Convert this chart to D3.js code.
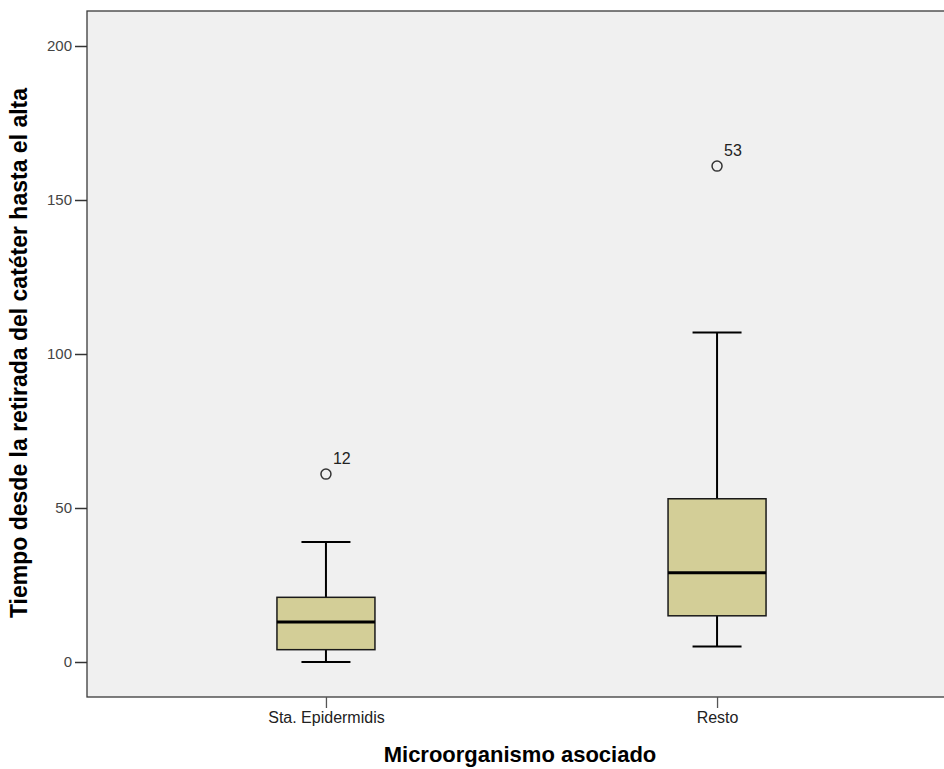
<!DOCTYPE html>
<html><head><meta charset="utf-8">
<script src="https://cdn.jsdelivr.net/npm/d3@7"></script>
<style>body{margin:0;background:#fff;} svg{display:block;}</style>
</head><body>
<script>
const categories = ["Sta. Epidermidis", "Resto"];
const lowerWhisker = [0, 5];
const q1 = [4, 15];
const median = [13, 29];
const q3 = [21, 53];
const upperWhisker = [39, 107];
const outlierValues = [61, 161];
const outlierLabels = ["12", "53"];
const yTicks = [0, 50, 100, 150, 200];

const W = 944, H = 769;
const L = 87, T = 11, R = 956, B = 697;
const FONT = "Liberation Sans, Arial, sans-serif";
const svg = d3.select("body").append("svg").attr("width", W).attr("height", H);

const y = d3.scaleLinear().domain([0, 200]).range([662, 46]);
const x = d3.scalePoint().domain(categories).range([L, R]).padding(0.611);

svg.append("rect").attr("x", L).attr("y", T).attr("width", R - L).attr("height", B - T)
  .attr("fill", "#f0f0f0").attr("stroke", "#3a3a3a").attr("stroke-width", 1.3);

// y axis
const ya = svg.append("g").attr("transform", `translate(${L},0)`)
  .call(d3.axisLeft(y).tickValues(yTicks).tickSize(12).tickPadding(3));
ya.select(".domain").remove();
ya.selectAll("line").attr("stroke", "#333").attr("stroke-width", 1.5);
ya.selectAll("text").attr("font-family", FONT).attr("font-size", 15).attr("fill", "#444");

// x axis
const xa = svg.append("g").attr("transform", `translate(0,${B})`)
  .call(d3.axisBottom(x).tickSize(11).tickPadding(4));
xa.select(".domain").remove();
xa.selectAll("line").attr("stroke", "#555").attr("stroke-width", 1.3);
xa.selectAll("text").attr("font-family", FONT).attr("font-size", 16).attr("fill", "#222");

const boxW = 98, capW = 49;
const data = categories.map((c, i) => ({c, lo: lowerWhisker[i], q1: q1[i], med: median[i], q3: q3[i], hi: upperWhisker[i], out: outlierValues[i], lab: outlierLabels[i]}));

const g = svg.selectAll("g.box").data(data).join("g").attr("class", "box");
g.append("line").attr("x1", d => x(d.c)).attr("x2", d => x(d.c))
  .attr("y1", d => y(d.hi)).attr("y2", d => y(d.q3)).attr("stroke", "#000").attr("stroke-width", 2);
g.append("line").attr("x1", d => x(d.c)).attr("x2", d => x(d.c))
  .attr("y1", d => y(d.q1)).attr("y2", d => y(d.lo)).attr("stroke", "#000").attr("stroke-width", 2);
g.append("line").attr("x1", d => x(d.c) - capW / 2).attr("x2", d => x(d.c) + capW / 2)
  .attr("y1", d => y(d.hi)).attr("y2", d => y(d.hi)).attr("stroke", "#000").attr("stroke-width", 2);
g.append("line").attr("x1", d => x(d.c) - capW / 2).attr("x2", d => x(d.c) + capW / 2)
  .attr("y1", d => y(d.lo)).attr("y2", d => y(d.lo)).attr("stroke", "#000").attr("stroke-width", 2);
g.append("rect").attr("x", d => x(d.c) - boxW / 2).attr("width", boxW)
  .attr("y", d => y(d.q3)).attr("height", d => y(d.q1) - y(d.q3))
  .attr("fill", "#d3ce97").attr("stroke", "#1a1a1a").attr("stroke-width", 1.5);
g.append("line").attr("x1", d => x(d.c) - boxW / 2).attr("x2", d => x(d.c) + boxW / 2)
  .attr("y1", d => y(d.med)).attr("y2", d => y(d.med)).attr("stroke", "#000").attr("stroke-width", 3);
g.append("circle").attr("cx", d => x(d.c)).attr("cy", d => y(d.out)).attr("r", 5)
  .attr("fill", "none").attr("stroke", "#333").attr("stroke-width", 1.5);
g.append("text").attr("x", d => x(d.c) + 7).attr("y", d => y(d.out) - 10.5)
  .text(d => d.lab).attr("font-family", FONT).attr("font-size", 16).attr("fill", "#222");

svg.append("text").attr("x", 520).attr("y", 762).attr("text-anchor", "middle")
  .attr("font-family", FONT).attr("font-weight", "bold").attr("font-size", 22)
  .attr("fill", "#000").text("Microorganismo asociado");
svg.append("text").attr("transform", "translate(27,353) rotate(-90)").attr("text-anchor", "middle")
  .attr("font-family", FONT).attr("font-weight", "bold").attr("font-size", 23)
  .attr("fill", "#000").text("Tiempo desde la retirada del catéter hasta el alta");
</script>
</body></html>
